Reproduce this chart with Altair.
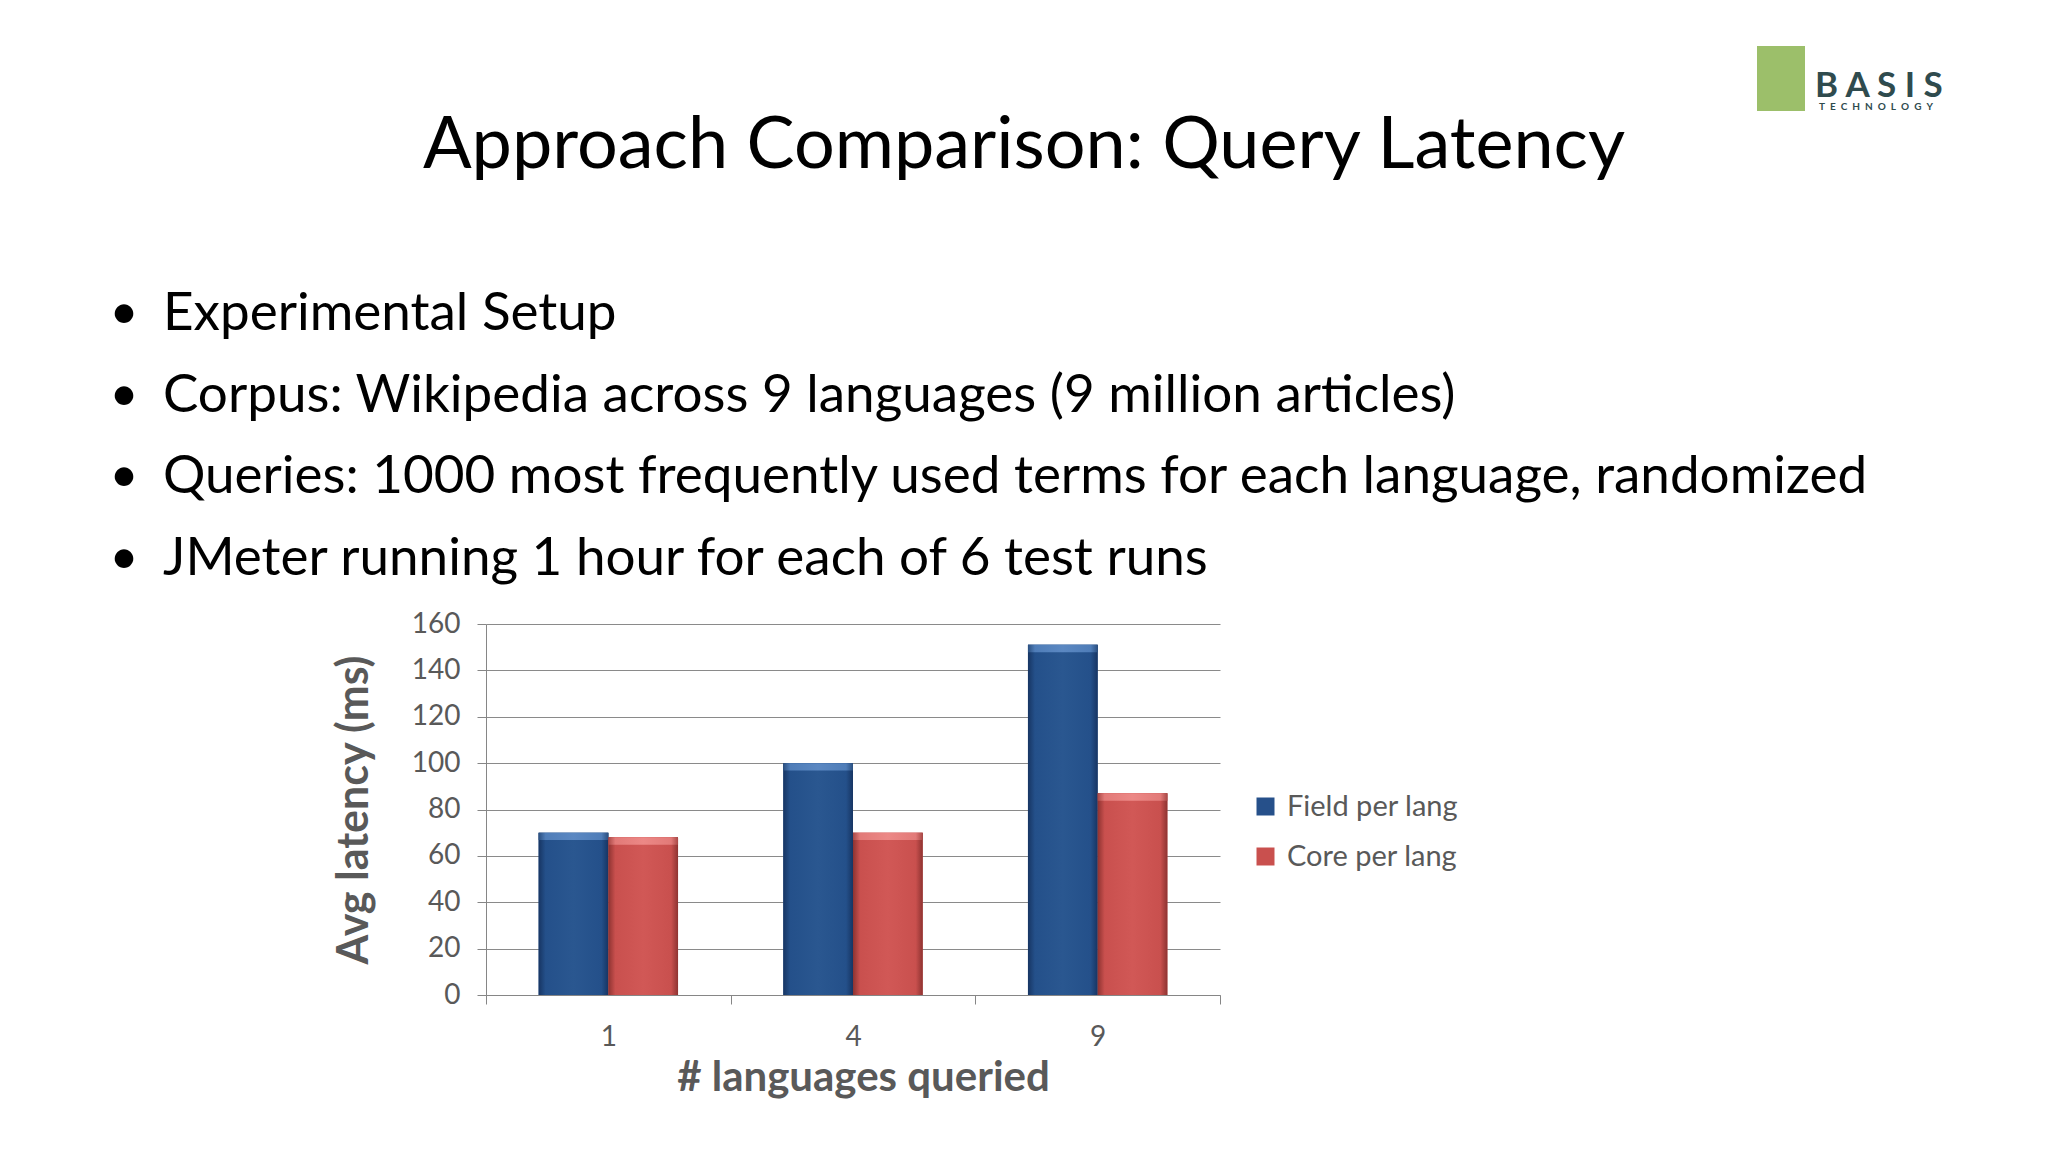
import altair as alt
import pandas as pd

# ---- data ----
LANGS = ["1", "4", "9"]
SERIES = ["Field per lang", "Core per lang"]
FIELD_VALUES = [70, 100, 151]
CORE_VALUES = [68, 70, 87]
Y_TICKS = [0, 20, 40, 60, 80, 100, 120, 140, 160]

TITLE = "Approach Comparison: Query Latency"
BULLETS = [
    "Experimental Setup",
    "Corpus: Wikipedia across 9 languages (9 million articles)",
    "Queries: 1000 most frequently used terms for each language, randomized",
    "JMeter running 1 hour for each of 6 test runs",
]
Y_TITLE = "Avg latency (ms)"
X_TITLE = "# languages queried"
LOGO_MAIN = "B A S I S"
LOGO_SUB = "\u2002".join("TECHNOLOGY")

rows = []
for i, lang in enumerate(LANGS):
    rows.append({"lang": lang, "series": SERIES[0], "value": FIELD_VALUES[i]})
    rows.append({"lang": lang, "series": SERIES[1], "value": CORE_VALUES[i]})
df = pd.DataFrame(rows)

FONT = "Lato"
GRAY = "#595959"
BLUE = "#26508A"
RED = "#C9504E"

W, H = 734, 371


def hgrad(edge, mid, light):
    return {
        "gradient": "linear", "x1": 0, "x2": 1, "y1": 0, "y2": 0,
        "stops": [
            {"offset": 0.0, "color": edge},
            {"offset": 0.1, "color": mid},
            {"offset": 0.5, "color": light},
            {"offset": 0.9, "color": mid},
            {"offset": 1.0, "color": edge},
        ],
    }


blue_grad = hgrad("#173563", "#24508A", "#2A5790")
red_grad = hgrad("#8E3331", "#C9504E", "#D15856")
blue_top = hgrad("#2A4F80", "#4F7DB8", "#5B88C2")
red_top = hgrad("#A84846", "#E27A78", "#EC8886")

x_enc = alt.X(
    "lang:N",
    sort=LANGS,
    scale=alt.Scale(paddingInner=0, paddingOuter=0),
    axis=alt.Axis(
        title=X_TITLE,
        titleFont=FONT, titleFontSize=42, titleFontWeight="bold", titleColor=GRAY,
        titleX=377, titleY=82, titleBaseline="middle", titleAlign="center",
        labelFont=FONT, labelFontSize=28, labelColor=GRAY, labelAngle=0,
        labelPadding=19,
        tickBand="extent", tickSize=9, tickColor="#868686",
        domainColor="#868686", grid=False,
    ),
)
xoff_enc = alt.XOffset(
    "series:N", sort=SERIES,
    scale=alt.Scale(domain=SERIES, paddingOuter=0.755, paddingInner=0),
)
y_enc = alt.Y(
    "value:Q",
    scale=alt.Scale(domain=[0, 160], nice=False),
    axis=alt.Axis(
        values=Y_TICKS,
        title=Y_TITLE,
        titleFont=FONT, titleFontSize=43, titleFontWeight="bold", titleColor=GRAY,
        titleX=-132, titleY=H / 2, titleAngle=-90, titleAlign="center",
        titleBaseline="middle",
        labelFont=FONT, labelFontSize=28, labelColor=GRAY, labelPadding=17,
        tickSize=9, tickColor="#868686", domainColor="#868686",
        gridColor="#8A8A8A", gridWidth=1,
    ),
)

base = alt.Chart(df)

bars_legend = base.mark_bar().encode(
    x=x_enc, xOffset=xoff_enc, y=y_enc,
    color=alt.Color(
        "series:N", sort=SERIES,
        scale=alt.Scale(domain=SERIES, range=[BLUE, RED]),
        legend=alt.Legend(
            title=None, orient="none", legendX=765, legendY=168,
            symbolType="square", symbolSize=324, symbolStrokeWidth=0,
            labelFont=FONT, labelFontSize=29, labelColor=GRAY,
            labelOffset=7, rowPadding=20, labelLimit=500,
        ),
    ),
)

bars_grad = base.mark_bar().encode(
    x=alt.X("lang:N", sort=LANGS),
    xOffset=alt.XOffset("series:N", sort=SERIES),
    y=alt.Y("value:Q"),
    fill=alt.condition(
        alt.datum.series == SERIES[0], alt.value(blue_grad), alt.value(red_grad)
    ),
)

bars_top = base.transform_calculate(top2="datum.value - 3.2").mark_bar().encode(
    x=alt.X("lang:N", sort=LANGS),
    xOffset=alt.XOffset("series:N", sort=SERIES),
    y=alt.Y("value:Q"),
    y2="top2:Q",
    fill=alt.condition(
        alt.datum.series == SERIES[0], alt.value(blue_top), alt.value(red_top)
    ),
)

# ---- slide texts ----
title_layer = alt.Chart(pd.DataFrame({"t": [TITLE]})).mark_text(
    font=FONT, fontSize=72, color="#000000", align="center", baseline="middle"
).encode(text="t:N", x=alt.value(538), y=alt.value(-478))

bullet_layers = []
bullet_y = [-310, -228, -147, -65]
for i, b in enumerate(BULLETS):
    d = pd.DataFrame({"t": [b], "dot": ["•"]})
    bullet_layers.append(
        alt.Chart(d).mark_text(
            font=FONT, fontSize=53, color="#000000", align="left", baseline="middle"
        ).encode(text="t:N", x=alt.value(-323), y=alt.value(bullet_y[i]))
    )
    bullet_layers.append(
        alt.Chart(d).mark_text(
            font=FONT, fontSize=50, color="#000000", align="center", baseline="middle"
        ).encode(text="dot:N", x=alt.value(-362), y=alt.value(bullet_y[i]))
    )

# ---- logo ----
logo_box = alt.Chart(pd.DataFrame({"k": [1]})).mark_rect(color="#9CBF6A").encode(
    x=alt.value(1757 - 486), x2=alt.value(1805 - 486),
    y=alt.value(46 - 624), y2=alt.value(111 - 624),
)
logo_main = alt.Chart(pd.DataFrame({"t": [LOGO_MAIN]})).mark_text(
    font=FONT, fontSize=35, fontWeight="bold", color="#2F4B4E", align="left",
    baseline="middle"
).encode(text="t:N", x=alt.value(1815 - 486), y=alt.value(86 - 624))
logo_sub = alt.Chart(pd.DataFrame({"t": [LOGO_SUB]})).mark_text(
    font=FONT, fontSize=10, fontWeight="bold", color="#2F4B4E", align="left",
    baseline="middle"
).encode(text="t:N", x=alt.value(1819 - 486), y=alt.value(107 - 624))

chart = alt.layer(
    bars_legend, bars_grad, bars_top, title_layer, *bullet_layers,
    logo_box, logo_main, logo_sub,
).properties(
    width=W, height=H,
    padding={"left": 478, "top": 616, "right": 820, "bottom": 149},
    autosize=alt.AutoSizeParams(type="none"),
    background="#FFFFFF",
).configure_view(stroke=None)

chart.save("out.html", embed_options={"renderer": "svg", "actions": False})
